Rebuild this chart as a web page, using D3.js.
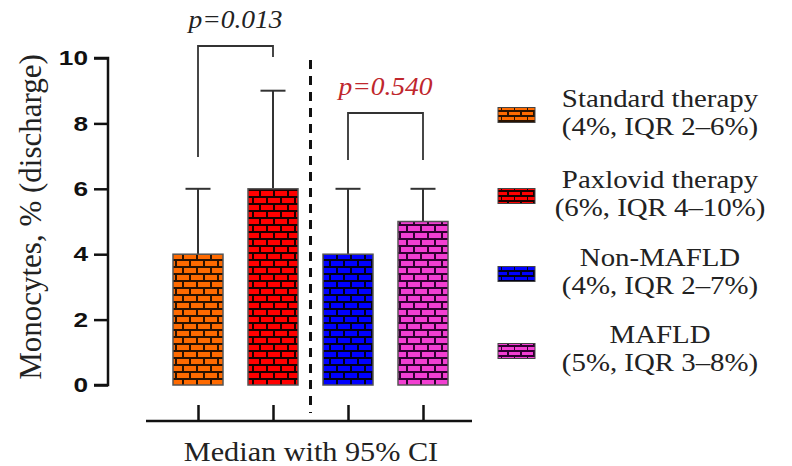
<!DOCTYPE html>
<html><head><meta charset="utf-8">
<script src="https://cdn.jsdelivr.net/npm/d3@7"></script>
<style>body{margin:0;background:#fff}svg{display:block}</style>
</head><body>
<svg id="c" width="792" height="466"></svg>
<script>
const categories = ["Standard therapy", "Paxlovid therapy", "Non-MAFLD", "MAFLD"];
const medians = [4, 6, 4, 5];
const upperCI = [6, 9, 6, 6];
const legendLine2 = ["(4%, IQR 2\u20136%)", "(6%, IQR 4\u201310%)", "(4%, IQR 2\u20137%)", "(5%, IQR 3\u20138%)"];
const fills = ["#ff6a00", "#ff0000", "#0000ff", "#f23fd2"];
const mortar = ["#2a1200", "#1a0000", "#00001a", "#300030"];
const yTicks = [0, 2, 4, 6, 8, 10];
const comparisons = [{a: 0, b: 1, label: "p=0.013", color: "#222"}, {a: 2, b: 3, label: "p=0.540", color: "#c0272d"}];
const yTitle = "Monocytes, % (discharge)";
const xTitle = "Median with 95% CI";

const svg = d3.select("#c");
const serif = "'Liberation Serif','Times New Roman',serif";
const y = d3.scaleLinear().domain([0, 10]).range([385, 58]);
const x = d3.scalePoint().domain(categories).range([198, 423]);
const barW = 50;

const defs = svg.append("defs");
function brick(id, fill, dark, w, h, sw) {
  const p = defs.append("pattern").attr("id", id).attr("patternUnits", "userSpaceOnUse")
    .attr("width", w).attr("height", 2 * h);
  p.append("rect").attr("width", w).attr("height", 2 * h).attr("fill", fill);
  const g = p.append("g").attr("stroke", dark).attr("stroke-width", sw).attr("shape-rendering", "crispEdges");
  g.append("line").attr("x1", 0).attr("x2", w).attr("y1", sw / 2).attr("y2", sw / 2);
  g.append("line").attr("x1", 0).attr("x2", w).attr("y1", h + sw / 2).attr("y2", h + sw / 2);
  g.append("line").attr("x1", sw / 2).attr("x2", sw / 2).attr("y1", 0).attr("y2", h);
  g.append("line").attr("x1", w / 2 + sw / 2).attr("x2", w / 2 + sw / 2).attr("y1", h).attr("y2", 2 * h);
}
categories.forEach((c, i) => {
  brick("b" + i, fills[i], mortar[i], 14, 7, 2);
  brick("l" + i, fills[i], mortar[i], 13, 5, 1.5);
});

// horizontally stretched text helper
function stext(parent, px, py, sx, txt) {
  return parent.append("text").attr("transform", `translate(${px},${py}) scale(${sx},1)`).text(txt);
}

// error bars
const eb = svg.append("g").attr("stroke", "#333").attr("stroke-width", 2);
categories.forEach((c, i) => {
  eb.append("line").attr("x1", x(c)).attr("x2", x(c)).attr("y1", y(medians[i])).attr("y2", y(upperCI[i]));
  eb.append("line").attr("x1", x(c) - 12.5).attr("x2", x(c) + 12.5).attr("y1", y(upperCI[i])).attr("y2", y(upperCI[i]));
});

// bars
svg.append("g").selectAll("rect").data(categories).join("rect")
  .attr("x", d => x(d) - barW / 2).attr("width", barW)
  .attr("y", (d, i) => y(medians[i])).attr("height", (d, i) => y(0) - y(medians[i]))
  .attr("fill", (d, i) => "url(#b" + i + ")")
  .attr("stroke", "#555").attr("stroke-width", 1.5);

// y axis
const yAxis = d3.axisLeft(y).tickValues(yTicks).tickSize(14).tickPadding(6).tickFormat(d3.format("d"));
const ya = svg.append("g").attr("transform", "translate(108,0)").call(yAxis);
ya.select(".domain").attr("stroke", "#111").attr("stroke-width", 2.5).attr("d", "M-14," + y(10) + "H0V" + y(0) + "H-14");
ya.selectAll(".tick line").attr("stroke", "#111").attr("stroke-width", 2.5);
ya.selectAll(".tick text").attr("font-family", "'Liberation Sans',Arial,sans-serif").attr("font-weight", "bold")
  .attr("font-size", 21).attr("fill", "#111")
  .attr("x", 0).attr("transform", "translate(-20,0) scale(1.25,1)");

// x axis
const xAxis = d3.axisBottom(x).tickSize(-16).tickFormat("");
const xa = svg.append("g").attr("transform", "translate(0,421)").call(xAxis);
xa.select(".domain").attr("stroke", "#111").attr("stroke-width", 2.5).attr("d", "M146,0H472");
xa.selectAll(".tick line").attr("stroke", "#111").attr("stroke-width", 2.5);

// dashed separator
const sepX = (x(categories[1]) + x(categories[2])) / 2;
svg.append("line").attr("x1", sepX).attr("x2", sepX).attr("y1", 60).attr("y2", 413)
  .attr("stroke", "#111").attr("stroke-width", 3).attr("stroke-dasharray", "9,7");

// titles
svg.append("text").attr("transform", "translate(41,217) rotate(-90)").attr("text-anchor", "middle")
  .attr("font-family", serif).attr("font-size", 31).attr("fill", "#222").text(yTitle);
stext(svg, 311, 461, 1.08, xTitle).attr("text-anchor", "middle")
  .attr("font-family", serif).attr("font-size", 28).attr("fill", "#222");

// comparison brackets
const brTop = [46, 113], brLegs = [[157, 57], [160, 160]], labY = [28, 95];
comparisons.forEach((cmp, k) => {
  const xa1 = x(categories[cmp.a]), xb1 = x(categories[cmp.b]);
  svg.append("path").attr("fill", "none").attr("stroke", "#333").attr("stroke-width", 1.8)
    .attr("d", `M${xa1},${brLegs[k][0]}V${brTop[k]}H${xb1}V${brLegs[k][1]}`);
  stext(svg, (xa1 + xb1) / 2, labY[k], 1.1, cmp.label).attr("text-anchor", "middle")
    .attr("font-family", serif).attr("font-style", "italic").attr("font-size", 25)
    .attr("fill", cmp.color);
});

// legend
const legY = [115, 196, 274, 351];
const lg = svg.append("g");
categories.forEach((c, i) => {
  lg.append("rect").attr("x", 498).attr("y", legY[i] - 7.5).attr("width", 37).attr("height", 15)
    .attr("fill", "url(#l" + i + ")").attr("stroke", "#444").attr("stroke-width", 1);
  stext(lg, 660, legY[i] - 8, 1.11, c).attr("text-anchor", "middle").attr("font-family", serif)
    .attr("font-size", 26).attr("fill", "#222");
  stext(lg, 660, legY[i] + 20, 1.11, legendLine2[i]).attr("text-anchor", "middle").attr("font-family", serif)
    .attr("font-size", 26).attr("fill", "#222");
});
</script>
</body></html>
